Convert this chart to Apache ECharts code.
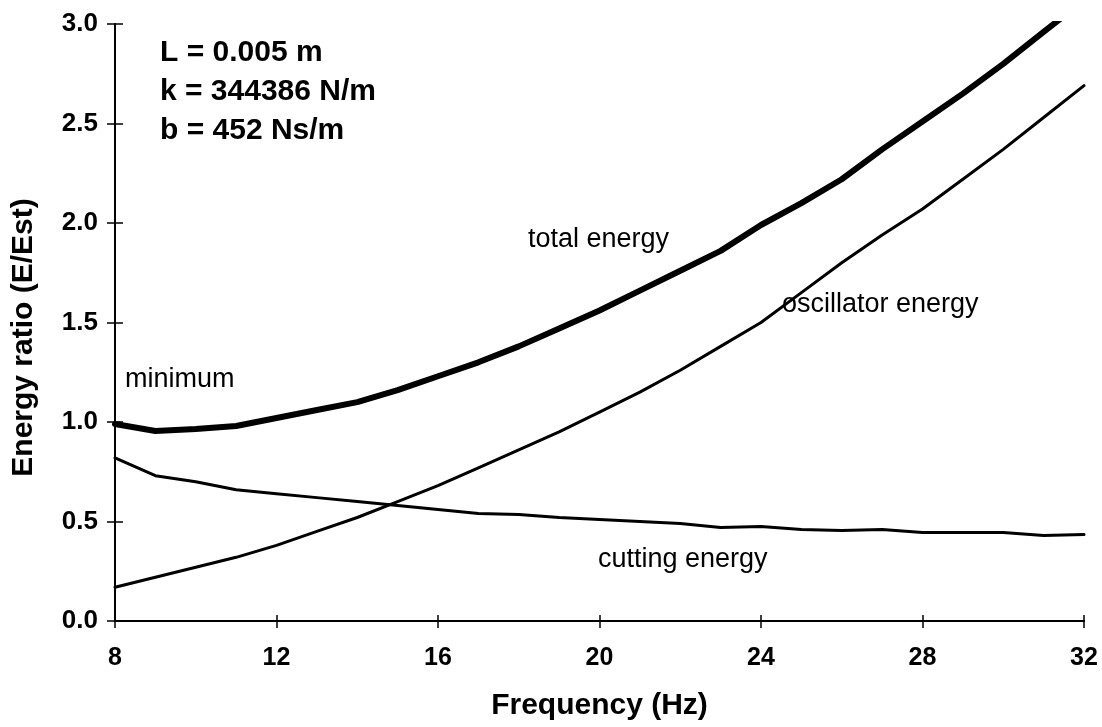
<!DOCTYPE html>
<html>
<head>
<meta charset="utf-8">
<script src="https://cdn.jsdelivr.net/npm/echarts@6/dist/echarts.min.js"></script>
<style>
  html, body { margin: 0; padding: 0; background: #ffffff; }
  #chart { width: 1102px; height: 727px; }
</style>
</head>
<body>
<div id="chart"></div>
<script>
// Excitation frequency (Hz)
const frequencies = [8, 9, 10, 11, 12, 13, 14, 15, 16, 17, 18, 19, 20,
                     21, 22, 23, 24, 25, 26, 27, 28, 29, 30, 31, 32];
// Energy ratios E/Est at each frequency
const totalEnergy = [0.99, 0.955, 0.965, 0.98, 1.02, 1.06, 1.10, 1.16, 1.23, 1.30, 1.38, 1.47, 1.56,
                     1.66, 1.76, 1.86, 1.99, 2.10, 2.22, 2.37, 2.51, 2.65, 2.80, 2.96, 3.12];
const oscillatorEnergy = [0.17, 0.22, 0.27, 0.32, 0.38, 0.45, 0.52, 0.60, 0.68, 0.77, 0.86, 0.95, 1.05,
                          1.15, 1.26, 1.38, 1.50, 1.65, 1.80, 1.94, 2.07, 2.22, 2.37, 2.53, 2.69];
const cuttingEnergy = [0.82, 0.73, 0.70, 0.66, 0.64, 0.62, 0.60, 0.58, 0.56, 0.54, 0.535, 0.52, 0.51,
                       0.50, 0.49, 0.47, 0.475, 0.46, 0.455, 0.46, 0.445, 0.445, 0.445, 0.43, 0.435];
// Model parameters shown in the corner
const parameterLines = ['L = 0.005 m', 'k = 344386 N/m', 'b = 452 Ns/m'];
// Curve annotations
const curveNames = { total: 'total energy', oscillator: 'oscillator energy', cutting: 'cutting energy', minimum: 'minimum' };

const FONT = '"Liberation Sans", Arial, Helvetica, sans-serif';
const INK = '#000000';

const pairs = arr => frequencies.map((f, i) => [f, arr[i]]);

const chart = echarts.init(document.getElementById('chart'), null, { renderer: 'canvas' });

const axisCommon = {
  axisLine: { show: true, lineStyle: { color: INK, width: 2 } },
  splitLine: { show: false }
};

const option = {
  backgroundColor: '#ffffff',
  animation: false,
  grid: { left: 115, right: 18, top: 24, bottom: 106 },
  xAxis: [
    Object.assign({
      type: 'value', min: 8, max: 32, interval: 4, position: 'bottom',
      name: 'Frequency (Hz)', nameLocation: 'middle', nameGap: 70,
      nameTextStyle: { fontFamily: FONT, fontSize: 30, fontWeight: 'bold', color: INK },
      axisTick: { show: true, inside: false, length: 7, lineStyle: { color: INK, width: 1.5 } },
      axisLabel: { fontFamily: FONT, fontSize: 25, fontWeight: 'bold', color: INK, margin: 25 }
    }, axisCommon),
    // second bottom axis carries the inward half of each crossing tick
    Object.assign({
      type: 'value', min: 8, max: 32, interval: 4, position: 'bottom', offset: 0,
      axisTick: { show: true, inside: true, length: 6, lineStyle: { color: INK, width: 1.5 } },
      axisLabel: { show: false }
    }, axisCommon)
  ],
  yAxis: [
    Object.assign({
      type: 'value', min: 0, max: 3, interval: 0.5, position: 'left',
      name: 'Energy ratio (E/Est)', nameLocation: 'middle', nameGap: 76, nameRotate: 90,
      nameTextStyle: { fontFamily: FONT, fontSize: 30, fontWeight: 'bold', color: INK, padding: [0, 30, 0, 0] },
      axisTick: { show: true, inside: false, length: 8, lineStyle: { color: INK, width: 1.5 } },
      axisLabel: { fontFamily: FONT, fontSize: 26, fontWeight: 'bold', color: INK, margin: 17,
                   formatter: v => v.toFixed(1) }
    }, axisCommon),
    // second left axis carries the inward half of each crossing tick
    Object.assign({
      type: 'value', min: 0, max: 3, interval: 0.5, position: 'left', offset: 0,
      axisTick: { show: true, inside: true, length: 8, lineStyle: { color: INK, width: 1.5 } },
      axisLabel: { show: false }
    }, axisCommon)
  ],
  series: [
    {
      name: curveNames.total, type: 'line', xAxisIndex: 0, yAxisIndex: 0,
      data: pairs(totalEnergy), showSymbol: false, symbol: 'none',
      lineStyle: { color: INK, width: 6, cap: 'round', join: 'round' }, clip: true, z: 3
    },
    {
      name: curveNames.oscillator, type: 'line', xAxisIndex: 0, yAxisIndex: 0,
      data: pairs(oscillatorEnergy), showSymbol: false, symbol: 'none',
      lineStyle: { color: INK, width: 3, cap: 'round', join: 'round' }, clip: true, z: 2
    },
    {
      name: curveNames.cutting, type: 'line', xAxisIndex: 0, yAxisIndex: 0,
      data: pairs(cuttingEnergy), showSymbol: false, symbol: 'none',
      lineStyle: { color: INK, width: 3, cap: 'round', join: 'round' }, clip: true, z: 2
    }
  ],
  graphic: [
    { type: 'text', left: 160, top: 38, style: { text: parameterLines[0], font: 'bold 30px ' + FONT, fill: INK } },
    { type: 'text', left: 160, top: 77, style: { text: parameterLines[1], font: 'bold 30px ' + FONT, fill: INK } },
    { type: 'text', left: 160, top: 116, style: { text: parameterLines[2], font: 'bold 30px ' + FONT, fill: INK } },
    { type: 'text', left: 125, top: 366, style: { text: curveNames.minimum, font: '27px ' + FONT, fill: INK } },
    { type: 'text', left: 528, top: 226, style: { text: curveNames.total, font: '27px ' + FONT, fill: INK } },
    { type: 'text', left: 782, top: 291, style: { text: curveNames.oscillator, font: '27px ' + FONT, fill: INK } },
    { type: 'text', left: 598, top: 546, style: { text: curveNames.cutting, font: '27px ' + FONT, fill: INK } }
  ]
};

chart.setOption(option);
</script>
</body>
</html>
